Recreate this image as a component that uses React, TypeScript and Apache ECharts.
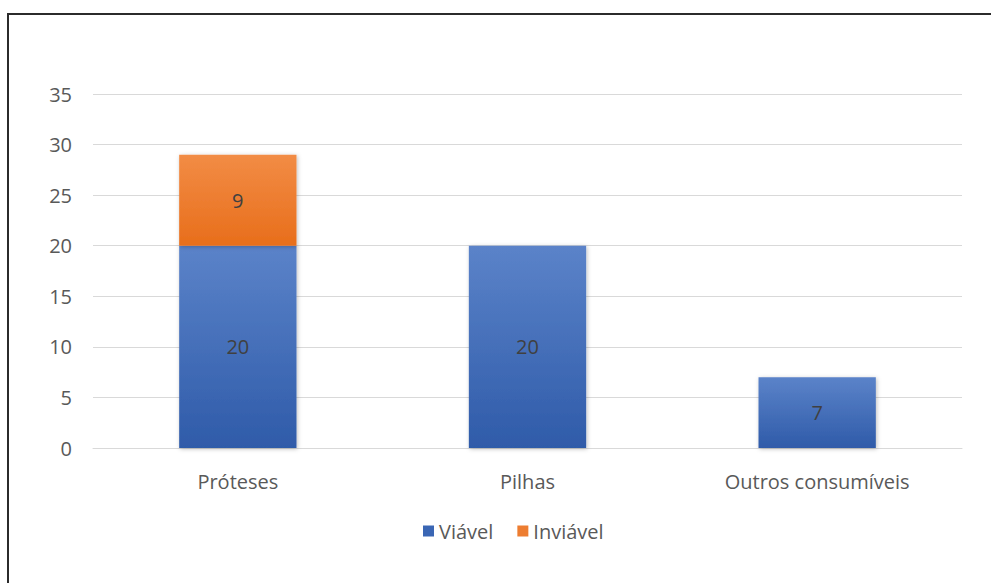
import React, { useEffect, useRef } from "react";
import * as echarts from "echarts";

const categories = ["Próteses", "Pilhas", "Outros consumíveis"];
const viavel = [20, 20, 7];
const inviavel = [9, null, null];
const yTicks = [0, 5, 10, 15, 20, 25, 30, 35];

const FONT = "'Open Sans', 'Noto Sans', sans-serif";
const FS = 20;

export default function App() {
  const ref = useRef<HTMLDivElement>(null);
  useEffect(() => {
    if (!ref.current) return;
    const chart = echarts.init(ref.current, null, { renderer: "svg" });
    const blue = new echarts.graphic.LinearGradient(0, 0, 0, 1, [
      { offset: 0, color: "#5b83c9" },
      { offset: 1, color: "#2f5ba9" },
    ]);
    const orange = new echarts.graphic.LinearGradient(0, 0, 0, 1, [
      { offset: 0, color: "#f28c45" },
      { offset: 1, color: "#e86e1b" },
    ]);
    chart.setOption({
      animation: false,
      backgroundColor: "#ffffff",
      textStyle: { fontFamily: FONT },
      grid: { left: 93, right: 29, top: 94, bottom: 135 },
      graphic: [
        { type: "line", shape: { x1: 7, y1: 14, x2: 991, y2: 14 }, style: { stroke: "#2b2b2b", lineWidth: 2 } },
        { type: "line", shape: { x1: 8, y1: 14, x2: 8, y2: 583 }, style: { stroke: "#2b2b2b", lineWidth: 2 } },
      ],
      legend: {
        left: 418,
        top: 516,
        itemWidth: 11,
        itemHeight: 11,
        itemGap: 24,
        icon: "rect",
        textStyle: { fontSize: FS, color: "#595959", fontFamily: FONT },
        data: [
          { name: "Viável", itemStyle: { color: "#3a66b4" } },
          { name: "Inviável", itemStyle: { color: "#ed7d31" } },
        ],
      },
      xAxis: {
        type: "category",
        data: categories,
        axisLine: { show: true, lineStyle: { color: "#d9d9d9", width: 1 } },
        axisTick: { show: false },
        axisLabel: { fontSize: FS, color: "#595959", margin: 23, fontFamily: FONT },
      },
      yAxis: {
        type: "value",
        min: yTicks[0],
        max: yTicks[yTicks.length - 1],
        interval: 5,
        axisLine: { show: false },
        axisTick: { show: false },
        splitLine: { lineStyle: { color: "#d9d9d9", width: 1 } },
        axisLabel: { fontSize: FS, color: "#595959", margin: 21, fontFamily: FONT },
      },
      series: [
        {
          name: "Viável",
          type: "bar",
          stack: "total",
          data: viavel,
          barWidth: "40.5%",
          itemStyle: { color: blue, shadowColor: "rgba(0,0,0,0.25)", shadowBlur: 4, shadowOffsetX: 1, shadowOffsetY: 1 },
          label: { show: true, position: "inside", fontSize: FS, color: "#404040", fontFamily: FONT },
        },
        {
          name: "Inviável",
          type: "bar",
          stack: "total",
          data: inviavel,
          barWidth: "40.5%",
          itemStyle: { color: orange, shadowColor: "rgba(0,0,0,0.25)", shadowBlur: 4, shadowOffsetX: 1, shadowOffsetY: 1 },
          label: { show: true, position: "inside", fontSize: FS, color: "#404040", fontFamily: FONT },
        },
      ],
    });
    return () => chart.dispose();
  }, []);
  return (
    <div
      ref={ref}
      style={{ position: "fixed", left: 0, top: 0, width: 991, height: 583, background: "#fff" }}
    />
  );
}
